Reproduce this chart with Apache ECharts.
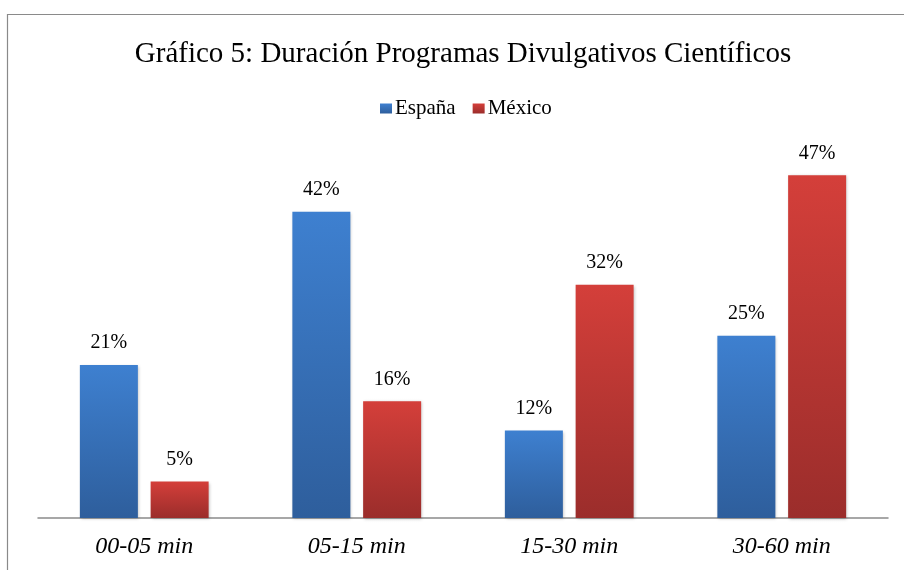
<!DOCTYPE html>
<html>
<head>
<meta charset="utf-8">
<script src="https://cdn.jsdelivr.net/npm/echarts@6/dist/echarts.min.js"></script>
<style>
html,body{margin:0;padding:0;background:#fff;}
#c{width:904px;height:570px;}
</style>
</head>
<body>
<div id="c"></div>
<script>
var categories = ['00-05 min', '05-15 min', '15-30 min', '30-60 min'];
var espana = [21, 42, 12, 25];
var mexico = [5, 16, 32, 47];

var chart = echarts.init(document.getElementById('c'));
var serif = '"Liberation Serif", "Times New Roman", serif';
function grad(top, bottom) {
  return new echarts.graphic.LinearGradient(0, 0, 0, 1, [
    {offset: 0, color: top}, {offset: 1, color: bottom}
  ]);
}
chart.setOption({
  animation: false,
  backgroundColor: '#fff',
  graphic: [{
    type: 'rect', left: 5, top: 12,
    shape: {width: 1000, height: 1000},
    style: {fill: 'none', stroke: '#8a8a8a', lineWidth: 1.2},
    silent: true, z: -1
  }],
  title: {
    text: 'Gráfico 5: Duración Programas Divulgativos Científicos',
    left: 458, textAlign: 'center', top: 35,
    textStyle: {fontFamily: serif, fontSize: 29, fontWeight: 'normal', color: '#000'}
  },
  legend: {
    data: ['España', 'México'],
    left: 375, top: 93,
    itemWidth: 12, itemHeight: 10, itemGap: 17,
    icon: 'rect',
    textStyle: {fontFamily: serif, fontSize: 21, color: '#000', padding: [0, 0, 0, -2]}
  },
  grid: {left: 38, right: 16, top: 153.5, bottom: 52, containLabel: false},
  xAxis: {
    type: 'category', data: categories,
    axisLine: {lineStyle: {color: '#8a8a8a', width: 1.5}},
    axisTick: {show: false},
    axisLabel: {fontFamily: serif, fontSize: 24, fontStyle: 'italic', color: '#000', margin: 17}
  },
  yAxis: {type: 'value', min: 0, max: 50, show: false, splitLine: {show: false}},
  series: [{
    name: 'España', type: 'bar', data: espana,
    barWidth: 58, barGap: '22%',
    itemStyle: {color: grad('#3e80d0', '#2e5e9c'), shadowBlur: 3, shadowColor: 'rgba(0,0,0,0.25)', shadowOffsetX: 1, shadowOffsetY: 1},
    label: {show: true, position: 'top', distance: 12, formatter: '{c}%', fontFamily: serif, fontSize: 20, color: '#000'}
  }, {
    name: 'México', type: 'bar', data: mexico,
    barWidth: 58,
    itemStyle: {color: grad('#d43f3a', '#9b2d2b'), shadowBlur: 3, shadowColor: 'rgba(0,0,0,0.25)', shadowOffsetX: 1, shadowOffsetY: 1},
    label: {show: true, position: 'top', distance: 12, formatter: '{c}%', fontFamily: serif, fontSize: 20, color: '#000'}
  }]
});
</script>
</body>
</html>
